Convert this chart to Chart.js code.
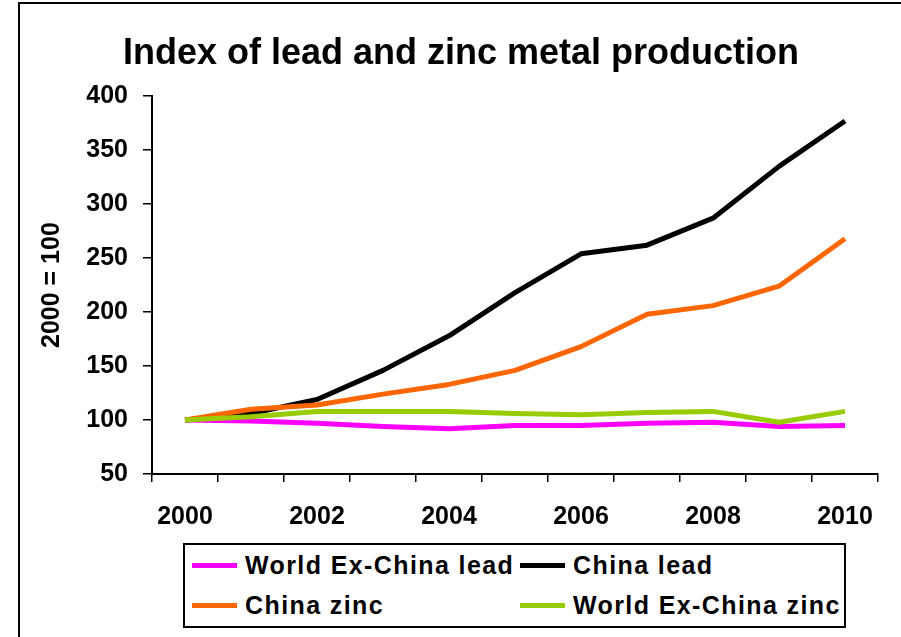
<!DOCTYPE html>
<html>
<head>
<meta charset="utf-8">
<title>Index of lead and zinc metal production</title>
<script src="https://cdn.jsdelivr.net/npm/chart.js@4/dist/chart.umd.min.js"></script>
<style>
  html, body { margin: 0; padding: 0; background: #fff; overflow: hidden; }
  #wrap { position: relative; width: 901px; height: 637px; overflow: hidden; }
  #frame { position: absolute; left: 18px; top: 2px; width: 1000px; height: 800px;
           border-left: 2px solid #000; border-top: 2px solid #000; }
  #chart { position: absolute; left: 0; top: 0; }
  #legend { position: absolute; left: 183px; top: 543px; width: 663px; height: 85px;
            box-sizing: border-box; border: 2px solid #000; background: #fff;
            display: grid; grid-template-columns: 328px 1fr; grid-auto-rows: 40px;
            padding-left: 7px; font: bold 25px "Liberation Sans", Arial, sans-serif;
            letter-spacing: 1.4px; color: #000; }
  .item { display: flex; align-items: center; white-space: nowrap; }
  .swatch { display: inline-block; flex: 0 0 45px; height: 5px; margin-right: 8px; }
</style>
</head>
<body>
<div id="wrap">
  <div id="frame"></div>
  <canvas id="chart" width="901" height="637"></canvas>
  <div id="legend"></div>
</div>
<script>
// Lead and zinc production index, 2000 = 100
const chartTitle = "Index of lead and zinc metal production";
const yTitle = "2000 = 100";
const years = ["2000", "2001", "2002", "2003", "2004", "2005", "2006", "2007", "2008", "2009", "2010"];

const worldLead = [100, 99, 97, 94, 92, 95, 95, 97, 98, 94, 95];
const chinaLead = [100, 106, 119, 146, 178, 218, 254, 262, 287, 335, 377];
const chinaZinc = [100, 110, 114, 124, 133, 146, 168, 198, 206, 224, 268];
const worldZinc = [100, 103, 108, 108, 108, 106, 105, 107, 108, 98, 108];

const seriesNames = ["World Ex-China lead", "China lead", "China zinc", "World Ex-China zinc"];
const seriesColors = ["#ff00ff", "#000000", "#ff6600", "#99cc00"];
const seriesData = [worldLead, chinaLead, chinaZinc, worldZinc];

const FONT = '"Liberation Sans", Arial, sans-serif';
const boldFont = (size) => ({ family: FONT, size, weight: "bold" });

// later series sit on top, like the spreadsheet original
const datasets = seriesData.map((data, i) => ({
  label: seriesNames[i],
  data,
  borderColor: seriesColors[i],
  backgroundColor: seriesColors[i],
  borderWidth: 5,
  borderJoinStyle: "round",
  pointRadius: 0,
  tension: 0,
  fill: false,
  order: seriesData.length - 1 - i,
}));

new Chart(document.getElementById("chart"), {
  type: "line",
  data: { labels: years, datasets },
  options: {
    responsive: false,
    animation: false,
    // left padding pushes the centred title to the right; the y title is pulled back with a negative pad
    layout: { padding: { left: 44, right: 23, top: 0, bottom: 103 } },
    plugins: {
      legend: { display: false },
      tooltip: { enabled: false },
      title: {
        display: true,
        text: chartTitle,
        color: "#000",
        font: boldFont(36),
        padding: { top: 32, bottom: 21 },
      },
    },
    scales: {
      x: {
        offset: true,
        grid: { offset: true, drawOnChartArea: false, drawTicks: true, tickLength: 8, color: "#000", lineWidth: 1.5 },
        border: { display: true, color: "#000", width: 2 },
        ticks: {
          autoSkip: false,
          maxRotation: 0,
          color: "#000",
          font: boldFont(25),
          padding: 20,
          callback: (value, i) => (i % 2 === 0 ? years[i] : ""),
        },
        afterFit: (scale) => { scale.height = 60; },
      },
      y: {
        min: 50,
        max: 400,
        ticks: { stepSize: 50, color: "#000", font: boldFont(25), padding: 15 },
        grid: { drawOnChartArea: false, drawTicks: true, tickLength: 9, color: "#000", lineWidth: 1.5 },
        border: { display: true, color: "#000", width: 2 },
        title: { display: true, text: yTitle, color: "#000", font: boldFont(25), padding: { top: -7, bottom: 0 } },
        afterFit: (scale) => { scale.width = 108; },
      },
    },
  },
});

// two-column legend box under the axis
const legendEl = document.getElementById("legend");
seriesNames.forEach((name, i) => {
  const item = document.createElement("div");
  item.className = "item";
  const sw = document.createElement("span");
  sw.className = "swatch";
  sw.style.background = seriesColors[i];
  item.appendChild(sw);
  item.appendChild(document.createTextNode(name));
  legendEl.appendChild(item);
});
</script>
</body>
</html>
